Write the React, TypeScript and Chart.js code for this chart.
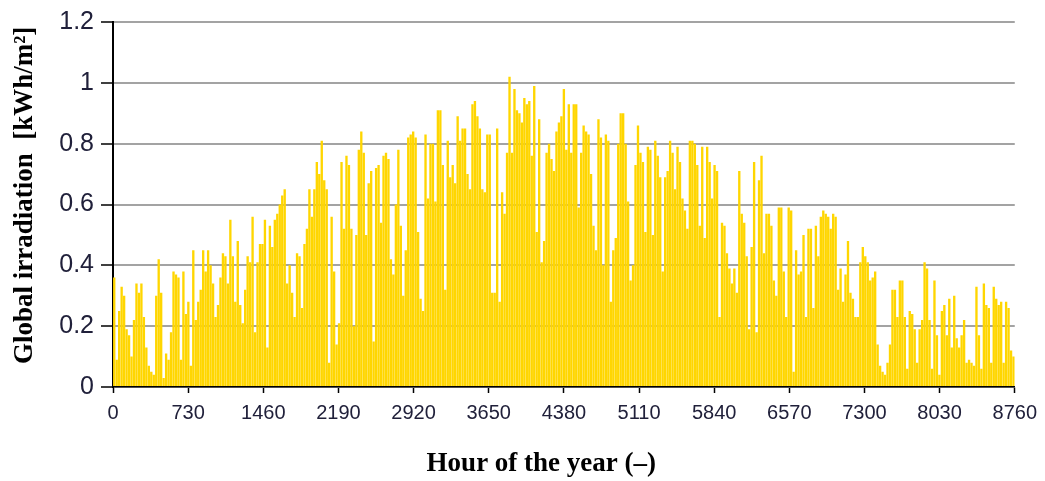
import React, { useEffect, useRef } from "react";
import { Chart, registerables } from "chart.js";

Chart.register(...registerables);

// Daily peak global irradiation (kWh/m²), one value per day of the year
const peaksDays001to060 = [
  0.36, 0.09, 0.25, 0.33, 0.30, 0.19, 0.17, 0.10, 0.22, 0.34,
  0.31, 0.34, 0.23, 0.13, 0.07, 0.05, 0.04, 0.30, 0.42, 0.31,
  0.03, 0.11, 0.09, 0.18, 0.38, 0.37, 0.36, 0.09, 0.38, 0.24,
  0.28, 0.07, 0.45, 0.22, 0.28, 0.32, 0.45, 0.38, 0.45, 0.40,
  0.34, 0.23, 0.27, 0.36, 0.44, 0.43, 0.34, 0.55, 0.43, 0.28,
  0.48, 0.27, 0.21, 0.32, 0.43, 0.41, 0.56, 0.18, 0.41, 0.47,
];
const peaksDays061to120 = [
  0.47, 0.55, 0.13, 0.53, 0.46, 0.55, 0.57, 0.60, 0.63, 0.65,
  0.34, 0.40, 0.31, 0.23, 0.44, 0.43, 0.26, 0.47, 0.52, 0.65,
  0.56, 0.65, 0.74, 0.70, 0.81, 0.68, 0.65, 0.08, 0.56, 0.38,
  0.14, 0.21, 0.74, 0.52, 0.76, 0.73, 0.52, 0.20, 0.50, 0.78,
  0.84, 0.77, 0.50, 0.67, 0.71, 0.15, 0.72, 0.73, 0.54, 0.76,
  0.77, 0.75, 0.42, 0.37, 0.60, 0.78, 0.53, 0.30, 0.45, 0.82,
];
const peaksDays121to180 = [
  0.83, 0.84, 0.82, 0.51, 0.29, 0.25, 0.83, 0.62, 0.80, 0.80,
  0.61, 0.91, 0.91, 0.73, 0.32, 0.81, 0.69, 0.73, 0.67, 0.89,
  0.81, 0.85, 0.85, 0.70, 0.65, 0.93, 0.94, 0.89, 0.85, 0.65,
  0.64, 0.83, 0.83, 0.31, 0.31, 0.85, 0.28, 0.64, 0.57, 0.77,
  1.02, 0.77, 0.98, 0.91, 0.90, 0.87, 0.95, 0.93, 0.94, 0.76,
  0.99, 0.51, 0.88, 0.41, 0.48, 0.77, 0.80, 0.75, 0.71, 0.84,
];
const peaksDays181to240 = [
  0.87, 0.89, 0.98, 0.78, 0.93, 0.77, 0.93, 0.93, 0.59, 0.77,
  0.86, 0.84, 0.83, 0.70, 0.53, 0.45, 0.88, 0.82, 0.40, 0.83,
  0.81, 0.28, 0.45, 0.49, 0.80, 0.90, 0.90, 0.80, 0.61, 0.35,
  0.40, 0.73, 0.86, 0.77, 0.74, 0.51, 0.79, 0.78, 0.50, 0.81,
  0.76, 0.69, 0.38, 0.69, 0.71, 0.81, 0.77, 0.65, 0.79, 0.74,
  0.62, 0.58, 0.52, 0.81, 0.81, 0.80, 0.73, 0.53, 0.79, 0.49,
];
const peaksDays241to300 = [
  0.79, 0.74, 0.62, 0.73, 0.71, 0.23, 0.54, 0.53, 0.44, 0.39,
  0.34, 0.39, 0.31, 0.71, 0.57, 0.54, 0.43, 0.19, 0.46, 0.74,
  0.18, 0.68, 0.76, 0.44, 0.57, 0.57, 0.53, 0.35, 0.30, 0.59,
  0.59, 0.38, 0.23, 0.59, 0.58, 0.05, 0.45, 0.37, 0.38, 0.50,
  0.23, 0.52, 0.52, 0.26, 0.53, 0.43, 0.56, 0.58, 0.57, 0.56,
  0.52, 0.57, 0.56, 0.32, 0.39, 0.28, 0.37, 0.48, 0.31, 0.29,
];
const peaksDays301to365 = [
  0.23, 0.23, 0.41, 0.46, 0.43, 0.41, 0.35, 0.36, 0.38, 0.14,
  0.07, 0.05, 0.04, 0.08, 0.14, 0.32, 0.32, 0.23, 0.35, 0.35,
  0.23, 0.06, 0.25, 0.24, 0.19, 0.08, 0.19, 0.22, 0.41, 0.39,
  0.22, 0.06, 0.35, 0.17, 0.04, 0.25, 0.27, 0.17, 0.29, 0.13,
  0.30, 0.16, 0.13, 0.17, 0.22, 0.08, 0.09, 0.08, 0.07, 0.33,
  0.17, 0.06, 0.34, 0.27, 0.26, 0.08, 0.33, 0.29, 0.27, 0.28,
  0.08, 0.28, 0.26, 0.12, 0.10,
];

const xTickStep = 730;
const xMax = 8760;
const yMax = 1.2;
const yTickLabels = ["0", "0.2", "0.4", "0.6", "0.8", "1", "1.2"];
const xTitle = "Hour of the year (\u2013)";
const yTitle = "Global irradiation  [kWh/m\u00B2]";

const dailyPeaks = [
  ...peaksDays001to060,
  ...peaksDays061to120,
  ...peaksDays121to180,
  ...peaksDays181to240,
  ...peaksDays241to300,
  ...peaksDays301to365,
];
const hoursPerDay = 24;

const axisTitlesPlugin = {
  id: "axisTitles",
  afterDraw(chart: any) {
    const { ctx, chartArea } = chart;
    ctx.save();
    ctx.fillStyle = "#000";
    ctx.font = 'bold 27px "Liberation Serif", "Times New Roman", serif';
    ctx.textAlign = "center";
    ctx.textBaseline = "middle";
    ctx.fillText(xTitle, chartArea.left + (chartArea.right - chartArea.left) * 0.475, chartArea.bottom + 77);
    ctx.translate(25, chartArea.top + (chartArea.bottom - chartArea.top) * 0.475);
    ctx.rotate(-Math.PI / 2);
    ctx.fillText(yTitle, 0, 0);
    ctx.restore();
  },
};

export default function App() {
  const canvasRef = useRef<HTMLCanvasElement | null>(null);

  useEffect(() => {
    if (!canvasRef.current) return;
    const points = dailyPeaks.map((v, i) => ({ x: i * hoursPerDay + hoursPerDay / 2, y: v }));
    const tickColor = "#20203a";
    const chart = new Chart(canvasRef.current, {
      type: "bar",
      data: {
        datasets: [
          {
            data: points as any,
            backgroundColor: "rgb(255,214,0)",
            borderWidth: 0,
            barPercentage: 0.95,
            categoryPercentage: 1,
          },
        ],
      },
      options: {
        animation: false,
        responsive: false,
        maintainAspectRatio: false,
        layout: { padding: { top: 20, right: 29, left: 0, bottom: 0 } },
        plugins: { legend: { display: false }, tooltip: { enabled: false } },
        scales: {
          x: {
            type: "linear",
            min: 0,
            max: xMax,
            offset: false,
            afterFit(scale: any) {
              scale.height = 94;
            },
            grid: {
              drawOnChartArea: false,
              drawTicks: true,
              tickLength: 6,
              tickColor: "#000",
              tickWidth: 1.5,
              offset: false,
            },
            border: { color: "#000", width: 1.5 },
            ticks: {
              stepSize: xTickStep,
              maxTicksLimit: 20,
              autoSkip: false,
              maxRotation: 0,
              padding: 8,
              color: tickColor,
              font: { family: '"Liberation Sans", Arial, sans-serif', size: 20 },
              callback: (v: any) => String(v),
            },
          },
          y: {
            min: 0,
            max: yMax,
            afterFit(scale: any) {
              scale.width = 113;
            },
            grid: {
              color: "#a3a3a3",
              lineWidth: 2,
              drawTicks: true,
              tickLength: 12,
              tickColor: "#000",
              tickWidth: 1.5,
            },
            border: { color: "#000", width: 2 },
            ticks: {
              stepSize: 0.2,
              padding: 7,
              color: tickColor,
              font: { family: '"Liberation Sans", Arial, sans-serif', size: 25 },
              callback: (v: any) => yTickLabels[Math.round(Number(v) * 5)] ?? "",
            },
          },
        },
      },
      plugins: [axisTitlesPlugin],
    });
    return () => chart.destroy();
  }, []);

  return (
    <div style={{ position: "fixed", left: 0, top: 0, width: 1045, height: 481, background: "#fff" }}>
      <canvas ref={canvasRef} width={1045} height={481} style={{ width: 1045, height: 481, display: "block" }} />
    </div>
  );
}
